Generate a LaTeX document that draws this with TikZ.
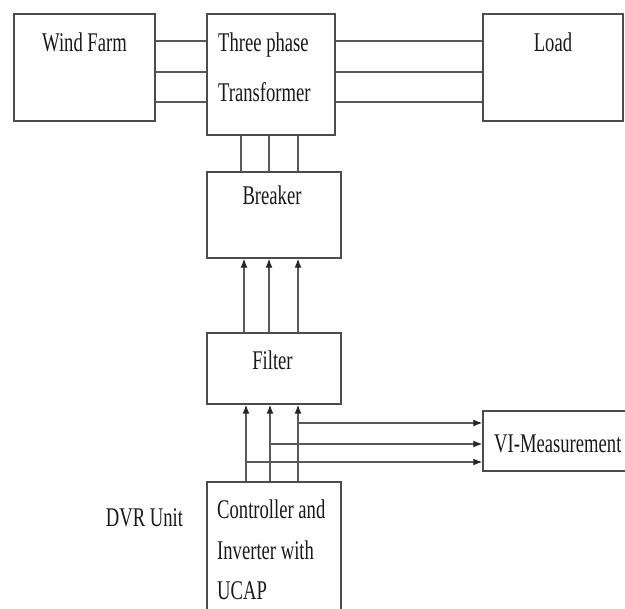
\documentclass[tikz,border=0pt]{standalone}
\usepackage{fontspec}
\setmainfont[FakeStretch=0.69]{Liberation Serif}
\usetikzlibrary{arrows.meta}

\begin{document}
\begin{tikzpicture}[
  x=1pt, y=-1pt,
  font=\fontsize{27}{32}\selectfont,
  box/.style={draw=black!70, line width=1.4pt, inner sep=0pt},
  lab/.style={anchor=base, inner sep=0pt, text=black!90},
  wire/.style={draw=black!65, line width=1.3pt},
  arr/.style={wire, -{Latex[length=9pt, width=7pt, black!85]}}]

\useasboundingbox (0,0) rectangle (625,609);

% Top row
\node[box, minimum width=141pt, minimum height=107pt] (wf) at (84.5,67.5) {};
\node[box, minimum width=128pt, minimum height=121pt] (tr) at (271,74.5) {};
\node[box, minimum width=140pt, minimum height=107pt] (ld) at (553,67.5) {};
\node[lab] (wft) at (84.5,52) {Wind Farm};
\node[lab, anchor=base west] (trt1) at (218,52) {Three phase};
\node[lab, anchor=base west] (trt2) at (218,102) {Transformer};
\node[lab] (ldt) at (553,52) {Load};

% DVR column
\node[box, minimum width=134pt, minimum height=86pt] (br) at (274,215) {};
\node[box, minimum width=134pt, minimum height=71pt] (fl) at (274,368.5) {};
\node[box, minimum width=134pt, minimum height=130pt] (ct) at (274,547) {};
\node[box, minimum width=144pt, minimum height=60pt] (vi) at (555,441) {};
\node[lab] (brt) at (272,205) {Breaker};
\node[lab] (flt) at (272.5,370) {Filter};
\node[lab, anchor=base west] (vit) at (494,452.5) {VI-Measurement};
\node[lab, anchor=base west] (ct1) at (217,518.5) {Controller and};
\node[lab, anchor=base west] (ct2) at (217,560) {Inverter with};
\node[lab, anchor=base west] (ct3) at (217,600) {UCAP};
\node[lab] (dvr) at (144.5,527) {DVR Unit};

% phase positions
\coordinate (h1) at (0,41); \coordinate (h2) at (0,72); \coordinate (h3) at (0,102);
\coordinate (v1) at (241,0); \coordinate (v2) at (269,0); \coordinate (v3) at (298,0);
\coordinate (a1) at (244,0); \coordinate (b1) at (246,0); \coordinate (b2) at (270,0);
\coordinate (m1) at (0,423); \coordinate (m2) at (0,444); \coordinate (m3) at (0,462);

\draw[wire] (wf.east |- h1)--(tr.west |- h1); \draw[wire] (wf.east |- h2)--(tr.west |- h2); \draw[wire] (wf.east |- h3)--(tr.west |- h3);
\draw[wire] (tr.east |- h1)--(ld.west |- h1); \draw[wire] (tr.east |- h2)--(ld.west |- h2); \draw[wire] (tr.east |- h3)--(ld.west |- h3);
\draw[wire] (tr.south -| v1)--(br.north -| v1); \draw[wire] (tr.south -| v2)--(br.north -| v2); \draw[wire] (tr.south -| v3)--(br.north -| v3);
\draw[arr] (fl.north -| a1)--(br.south -| a1); \draw[arr] (fl.north -| v2)--(br.south -| v2); \draw[arr] (fl.north -| v3)--(br.south -| v3);
\draw[arr] (ct.north -| b1)--(fl.south -| b1); \draw[arr] (ct.north -| b2)--(fl.south -| b2); \draw[arr] (ct.north -| v3)--(fl.south -| v3);
\draw[arr] (v3 |- m1)--(vi.west |- m1);
\draw[arr] (b2 |- m2)--(vi.west |- m2);
\draw[arr] (b1 |- m3)--(vi.west |- m3);
\end{tikzpicture}
\end{document}
